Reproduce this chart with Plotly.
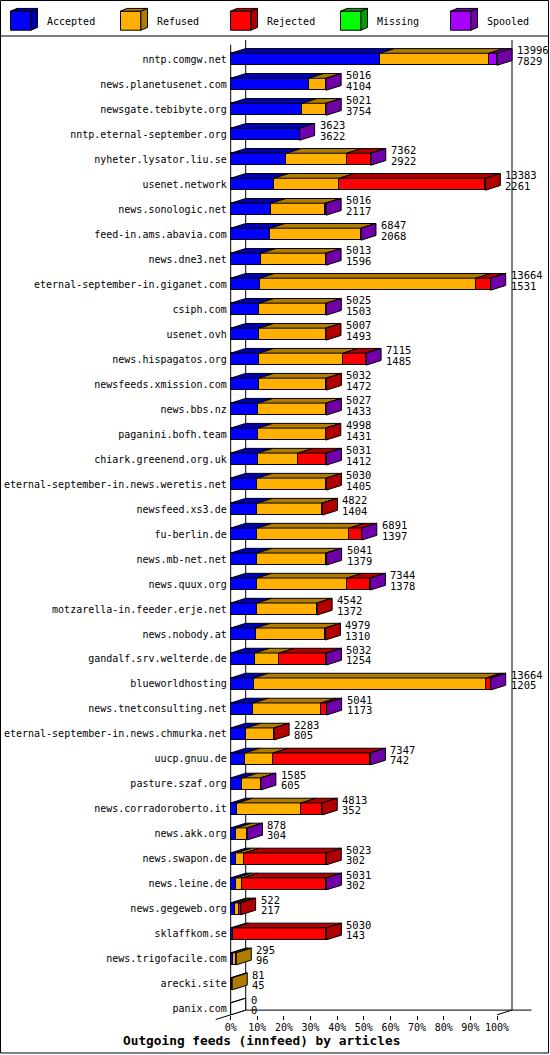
import plotly.graph_objects as go

# ---------------- data ----------------
hosts = ["nntp.comgw.net", "news.planetusenet.com", "newsgate.tebibyte.org", "nntp.eternal-september.org",
         "nyheter.lysator.liu.se", "usenet.network", "news.sonologic.net", "feed-in.ams.abavia.com",
         "news.dne3.net", "eternal-september-in.giganet.com", "csiph.com", "usenet.ovh",
         "news.hispagatos.org", "newsfeeds.xmission.com", "news.bbs.nz", "paganini.bofh.team",
         "chiark.greenend.org.uk", "eternal-september-in.news.weretis.net", "newsfeed.xs3.de", "fu-berlin.de",
         "news.mb-net.net", "news.quux.org", "motzarella-in.feeder.erje.net", "news.nobody.at",
         "gandalf.srv.welterde.de", "blueworldhosting", "news.tnetconsulting.net",
         "eternal-september-in.news.chmurka.net", "uucp.gnuu.de", "pasture.szaf.org", "news.corradoroberto.it",
         "news.akk.org", "news.swapon.de", "news.leine.de", "news.gegeweb.org", "sklaffkom.se",
         "news.trigofacile.com", "arecki.site", "panix.com"]
total = [13996, 5016, 5021, 3623, 7362, 13383, 5016, 6847, 5013, 13664, 5025, 5007, 7115, 5032, 5027, 4998,
         5031, 5030, 4822, 6891, 5041, 7344, 4542, 4979, 5032, 13664, 5041, 2283, 7347, 1585, 4813, 878,
         5023, 5031, 522, 5030, 295, 81, 0]
accepted = [7829, 4104, 3754, 3622, 2922, 2261, 2117, 2068, 1596, 1531, 1503, 1493, 1485, 1472, 1433, 1431,
            1412, 1405, 1404, 1397, 1379, 1378, 1372, 1310, 1254, 1205, 1173, 805, 742, 605, 352, 304,
            302, 302, 217, 143, 96, 45, 0]
refused = [5737, 909, 1264, 0, 3175, 3449, 2856, 4776, 3414, 11350, 3519, 3511, 4420, 3557, 3591, 3564,
           2123, 3622, 3415, 4834, 3629, 4736, 3167, 3666, 1298, 12226, 3571, 1475, 1498, 977, 3343, 571,
           420, 315, 215, 0, 199, 36, 0]
rejected = [0, 0, 0, 0, 1262, 7673, 40, 0, 0, 780, 0, 3, 1207, 3, 0, 3,
            1493, 3, 3, 657, 30, 1227, 3, 3, 2477, 230, 294, 3, 5104, 0, 1118, 0,
            4301, 4411, 90, 4887, 0, 0, 0]
missing = [0, 0, 0, 0, 0, 0, 0, 0, 0, 0, 0, 0, 0, 0, 0, 0, 0, 0, 0, 0,
           0, 0, 0, 0, 0, 0, 0, 0, 0, 0, 0, 0, 0, 0, 0, 0, 0, 0, 0]
spooled = [430, 3, 3, 1, 3, 0, 3, 3, 3, 3, 3, 0, 3, 0, 3, 0,
           3, 0, 0, 3, 3, 3, 0, 0, 3, 3, 3, 0, 3, 3, 0, 3,
           0, 3, 0, 0, 0, 0, 0]
categories = ["Accepted", "Refused", "Rejected", "Missing", "Spooled"]
x_ticks = [0, 10, 20, 30, 40, 50, 60, 70, 80, 90, 100]
title = "Outgoing feeds (innfeed) by articles"

series = {"Accepted": accepted, "Refused": refused, "Rejected": rejected,
          "Missing": missing, "Spooled": spooled}
front = {"Accepted": "#0000FF", "Refused": "#FFB000", "Rejected": "#FF0000",
         "Missing": "#00FF00", "Spooled": "#A800FF"}
dark = {"Accepted": "#0000B0", "Refused": "#B07C00", "Rejected": "#B00000",
        "Missing": "#00A000", "Spooled": "#7000A8"}

# ---------------- geometry ----------------
W, H = 550, 1055
plot_top, plot_bot = 40.0, 1020.5
x0px, x100px = 230.7, 497.0
sx = (x100px - x0px) / 100.0
row0_px, pitch = 59.3, 25.0
x_range = [-x0px / sx, (W - x0px) / sx]
y_range = [(plot_bot - row0_px) / pitch, (plot_top - row0_px) / pitch]
DX = 15.0 / sx
DY = 4.7 / pitch
HH = 6.0 / pitch
FONT = "DejaVu Sans Mono"

vmax = max(total)
rows = list(range(len(hosts)))
pct = {c: [v / vmax * 100.0 for v in series[c]] for c in categories}

fig = go.Figure()

# front faces (stacked bars)
for c in categories:
    fig.add_trace(go.Bar(y=rows, x=pct[c], orientation="h", width=2 * HH,
                         marker=dict(color=front[c], line=dict(color="black", width=1)),
                         hoverinfo="skip", showlegend=False))

# top faces and side faces
tops = {c: ([], []) for c in categories}
sides = {c: ([], []) for c in categories}
blank_x, blank_y = [], []
for r in rows:
    s = 0.0
    last = None
    for c in categories:
        w = pct[c][r]
        if w > 0:
            xs, ys = tops[c]
            yt = r - HH
            xs += [s, s + w, s + w + DX, s + DX, s, None]
            ys += [yt, yt, yt - DY, yt - DY, yt, None]
            last = c
        s += w
    yt, yb = r - HH, r + HH
    px_ = [s, s + DX, s + DX, s, s, None]
    py_ = [yt, yt - DY, yb - DY, yb, yt, None]
    if last is None:
        blank_x += px_ + [0, DX, None]
        blank_y += py_ + [yt, yt - DY, None]
    else:
        sides[last][0].extend(px_)
        sides[last][1].extend(py_)

for c in categories:
    if tops[c][0]:
        fig.add_trace(go.Scatter(x=tops[c][0], y=tops[c][1], mode="lines", fill="toself",
                                 fillcolor=dark[c], line=dict(color="black", width=1),
                                 hoverinfo="skip", showlegend=False))
for c in categories:
    if sides[c][0]:
        fig.add_trace(go.Scatter(x=sides[c][0], y=sides[c][1], mode="lines", fill="toself",
                                 fillcolor=dark[c], line=dict(color="black", width=1),
                                 hoverinfo="skip", showlegend=False))
if blank_x:
    fig.add_trace(go.Scatter(x=blank_x, y=blank_y, mode="lines", fill="toself", fillcolor="white",
                             line=dict(color="black", width=1), hoverinfo="skip", showlegend=False))

# value labels
annotations = []
for r in rows:
    e = total[r] / vmax * 100.0
    xl = e + DX + 3.0 / sx
    annotations.append(dict(x=xl, y=r - 9.0 / pitch, xref="x", yref="y", text=str(total[r]),
                            showarrow=False, xanchor="left", yanchor="middle",
                            font=dict(family=FONT, size=10.5, color="black")))
    annotations.append(dict(x=xl, y=r + 1.5 / pitch, xref="x", yref="y", text=str(accepted[r]),
                            showarrow=False, xanchor="left", yanchor="middle",
                            font=dict(family=FONT, size=10.5, color="black")))

# 3D box frame (behind bars)
floor_front = len(hosts) - 1 + HH
floor_back = floor_front - DY
top_back = y_range[1]
shapes = []
def dline(x0, y0, x1, y1):
    shapes.append(dict(type="line", xref="x", yref="y", x0=x0, y0=y0, x1=x1, y1=y1,
                       line=dict(color="black", width=1), layer="below"))
dline(0, top_back + DY, 0, floor_front)
dline(DX, top_back, DX, floor_back)
dline(100 + DX, top_back, 100 + DX, floor_back)
dline(DX, floor_back, (531.5 - x0px) / sx, floor_back)
dline(-DX, floor_front + DY, DX, floor_back)
dline(100, floor_front, 100 + DX, floor_back)

# paper helpers for legend / frame
def xp(px):
    return px / W
def yp(py):
    return (plot_bot - py) / (plot_bot - plot_top)

shapes.append(dict(type="rect", xref="paper", yref="paper", x0=xp(0.5), x1=xp(548.5),
                   y0=yp(0.5), y1=yp(1053.5), line=dict(color="black", width=1)))
shapes.append(dict(type="line", xref="paper", yref="paper", x0=xp(0.5), x1=xp(548.5),
                   y0=yp(36), y1=yp(36), line=dict(color="black", width=1)))

def ppath(pts):
    return "M " + " L ".join(f"{xp(a):.5f},{yp(b):.5f}" for a, b in pts) + " Z"

for i, c in enumerate(categories):
    lx = 10.5 + 110 * i
    fy0, fy1 = 11.2, 30.2
    fw, ddx, ddy = 20.4, 6.6, 2.8
    shapes.append(dict(type="path", xref="paper", yref="paper",
                       path=ppath([(lx, fy0), (lx + fw, fy0), (lx + fw, fy1), (lx, fy1)]),
                       fillcolor=front[c], line=dict(color="black", width=1)))
    shapes.append(dict(type="path", xref="paper", yref="paper",
                       path=ppath([(lx, fy0), (lx + fw, fy0), (lx + fw + ddx, fy0 - ddy), (lx + ddx, fy0 - ddy)]),
                       fillcolor=dark[c], line=dict(color="black", width=1)))
    shapes.append(dict(type="path", xref="paper", yref="paper",
                       path=ppath([(lx + fw, fy0), (lx + fw + ddx, fy0 - ddy), (lx + fw + ddx, fy1 - ddy), (lx + fw, fy1)]),
                       fillcolor=dark[c], line=dict(color="black", width=1)))
    annotations.append(dict(x=xp(lx + 34.1), y=yp(21), xref="paper", yref="paper", text=c,
                            showarrow=False, xanchor="left", yanchor="middle",
                            font=dict(family=FONT, size=10, color="black")))

annotations.append(dict(x=xp(261.5), y=yp(1041.5), xref="paper", yref="paper", text=title,
                        showarrow=False, xanchor="center", yanchor="middle",
                        font=dict(family=FONT, size=12.8, color="black", weight="bold")))

fig.update_layout(
    template="none",
    width=W, height=H,
    margin=dict(l=0, r=0, t=plot_top, b=H - plot_bot, pad=0, autoexpand=False),
    barmode="stack", bargap=0,
    paper_bgcolor="white", plot_bgcolor="white",
    showlegend=False,
    shapes=shapes, annotations=annotations,
    xaxis=dict(range=x_range, domain=[0, 1], tickvals=x_ticks, ticktext=[f"{v}%" for v in x_ticks],
               ticks="inside", ticklen=4, tickcolor="black", tickwidth=1,
               showline=False, showgrid=False, zeroline=False, automargin=False,
               tickfont=dict(family=FONT, size=10, color="black"), fixedrange=True),
    yaxis=dict(range=y_range, anchor="free", position=x0px / W, tickvals=rows, ticktext=hosts,
               ticks="outside", ticklen=2, tickcolor="rgba(0,0,0,0)",
               showline=False, showgrid=False, zeroline=False, automargin=False,
               tickfont=dict(family=FONT, size=10, color="black"), fixedrange=True),
)

fig.write_html("out.html")
